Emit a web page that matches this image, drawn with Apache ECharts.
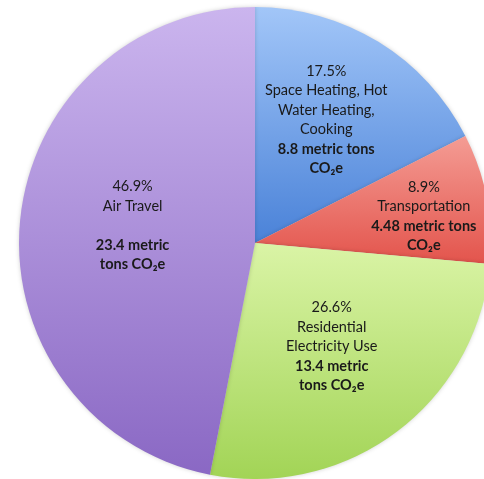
<!DOCTYPE html>
<html>
<head>
<meta charset="utf-8">
<script src="https://cdn.jsdelivr.net/npm/echarts@6/dist/echarts.min.js"></script>
<style>
  html, body { margin: 0; padding: 0; background: #fff; }
  #chart { width: 484px; height: 479px; }
</style>
</head>
<body>
<div id="chart"></div>
<script>
// slice data, clockwise from 12 o'clock
var names = ['Space Heating, Hot\nWater Heating,\nCooking', 'Transportation', 'Residential\nElectricity Use', 'Air Travel'];
var percents = [17.5, 8.9, 26.6, 46.9];
var tonsLabels = ['8.8 metric tons\nCO\u2082e', '4.48 metric tons\nCO\u2082e', '13.4 metric\ntons CO\u2082e', '23.4 metric\ntons CO\u2082e'];
var gapBeforeTons = [false, false, false, true];
var topColors = ['#a2c6f8', '#f49c94', '#daf4a6', '#cbb5ee'];
var bottomColors = ['#4a82d8', '#e3544c', '#a2d456', '#8a68c4'];
var labelShift = [[8, -20], [50, -4], [4, 7], [-2, -6]];

var data = [];
for (var i = 0; i < names.length; i++) {
    data.push({
        name: names[i],
        value: percents[i],
        itemStyle: {
            color: new echarts.graphic.LinearGradient(0, 0, 0, 1, [
                {offset: 0, color: topColors[i]},
                {offset: 1, color: bottomColors[i]}
            ])
        }
    });
}

var chart = echarts.init(document.getElementById('chart'));
chart.setOption({
    animation: false,
    series: [{
        type: 'pie',
        center: [255, 243],
        radius: 236,
        startAngle: 90,
        clockwise: true,
        data: data,
        itemStyle: {
            borderWidth: 0,
            shadowBlur: 4,
            shadowColor: 'rgba(0,0,0,0.18)'
        },
        label: {
            position: 'inside',
            fontFamily: 'Lato',
            fontSize: 14.5,
            lineHeight: 19.5,
            color: '#1a1a1a',
            align: 'center',
            formatter: function (p) {
                var i = p.dataIndex;
                var s = '{n|' + percents[i].toFixed(1) + '%}\n';
                s += p.name.split('\n').map(function (t) { return '{n|' + t + '}'; }).join('\n') + '\n';
                if (gapBeforeTons[i]) s += '{n| }\n';
                s += tonsLabels[i].split('\n').map(function (t) { return '{b|' + t + '}'; }).join('\n');
                return s;
            },
            rich: {
                n: {fontFamily: 'Lato', fontSize: 14.5, lineHeight: 19.5, color: '#1a1a1a'},
                b: {fontFamily: 'Lato', fontSize: 14.5, lineHeight: 19.5, fontWeight: 'bold', color: '#1a1a1a'}
            }
        },
        labelLine: {show: false},
        labelLayout: function (params) {
            var s = labelShift[params.dataIndex];
            return {dx: s[0], dy: s[1]};
        },
        emphasis: {disabled: true}
    }]
});
</script>
</body>
</html>
